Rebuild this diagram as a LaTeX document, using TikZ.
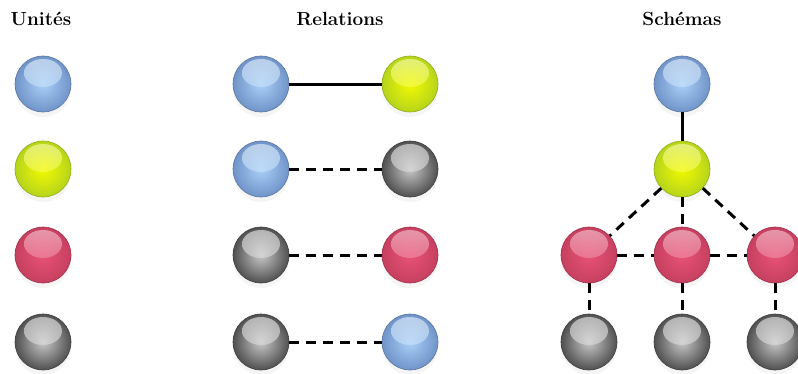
\documentclass[tikz,border=0pt]{standalone}
\usepackage{fontspec}
\usetikzlibrary{shadows}
\definecolor{bluein}{RGB}{170,208,248}
\definecolor{blueout}{RGB}{112,148,200}
\definecolor{greenin}{RGB}{242,250,0}
\definecolor{greenout}{RGB}{182,212,28}
\definecolor{redin}{RGB}{232,82,118}
\definecolor{redout}{RGB}{198,64,96}
\definecolor{grayin}{RGB}{200,200,200}
\definecolor{grayout}{RGB}{80,80,80}
\tikzset{
  ball/.style={circle, minimum size=56pt, inner sep=0pt,
    draw=#1out!80!black, line width=0.6pt,
    inner color=#1in, outer color=#1out,
    drop shadow={opacity=0.08, shadow xshift=0pt, shadow yshift=-5pt},
    path picture={\shade[top color=white!75!#1in, bottom color=#1in, opacity=0.6]
      ([yshift=11pt]path picture bounding box.center) ellipse (19pt and 14pt);}},
  title/.style={font=\fontsize{19}{22}\selectfont\bfseries},
  link/.style={line width=3pt, black},
  weak/.style={link, dash pattern=on 10pt off 7pt},
}
\begin{document}
\begin{tikzpicture}[x=1pt,y=-1pt]
\clip (0,0) rectangle (798,373);

\node[title] (tUnits) at (41,19) {Unités};
\node[title] (tRel) at (340,19) {Relations};
\node[title] (tSchema) at (682,19) {Schémas};

% units
\node[ball=blue] (uBlue) at (43,84) {};
\node[ball=green] (uGreen) at (43,169) {};
\node[ball=red] (uRed) at (43,255) {};
\node[ball=gray] (uGray) at (43,342) {};

% relations
\node[ball=blue] (rAl) at (261,84) {};
\node[ball=green] (rAr) at (410,84) {};
\node[ball=blue] (rBl) at (261,169) {};
\node[ball=gray] (rBr) at (410,169) {};
\node[ball=gray] (rCl) at (261,255) {};
\node[ball=red] (rCr) at (410,255) {};
\node[ball=gray] (rDl) at (261,342) {};
\node[ball=blue] (rDr) at (410,342) {};
\draw[link] (rAl) -- (rAr);
\draw[weak] (rBl) -- (rBr);
\draw[weak] (rCl) -- (rCr);
\draw[weak] (rDl) -- (rDr);

% schema
\node[ball=blue] (sTop) at (682,84) {};
\node[ball=green] (sMid) at (682,169) {};
\node[ball=red] (sRedL) at (589,255) {};
\node[ball=red] (sRedM) at (682,255) {};
\node[ball=red] (sRedR) at (775,255) {};
\node[ball=gray] (sGrayL) at (589,342) {};
\node[ball=gray] (sGrayM) at (682,342) {};
\node[ball=gray] (sGrayR) at (775,342) {};
\draw[link] (sTop) -- (sMid);
\draw[weak] (sMid) -- (sRedL);
\draw[weak] (sMid) -- (sRedM);
\draw[weak] (sMid) -- (sRedR);
\draw[weak] (sRedL) -- (sRedM);
\draw[weak] (sRedM) -- (sRedR);
\draw[weak] (sRedL) -- (sGrayL);
\draw[weak] (sRedM) -- (sGrayM);
\draw[weak] (sRedR) -- (sGrayR);
\end{tikzpicture}
\end{document}
